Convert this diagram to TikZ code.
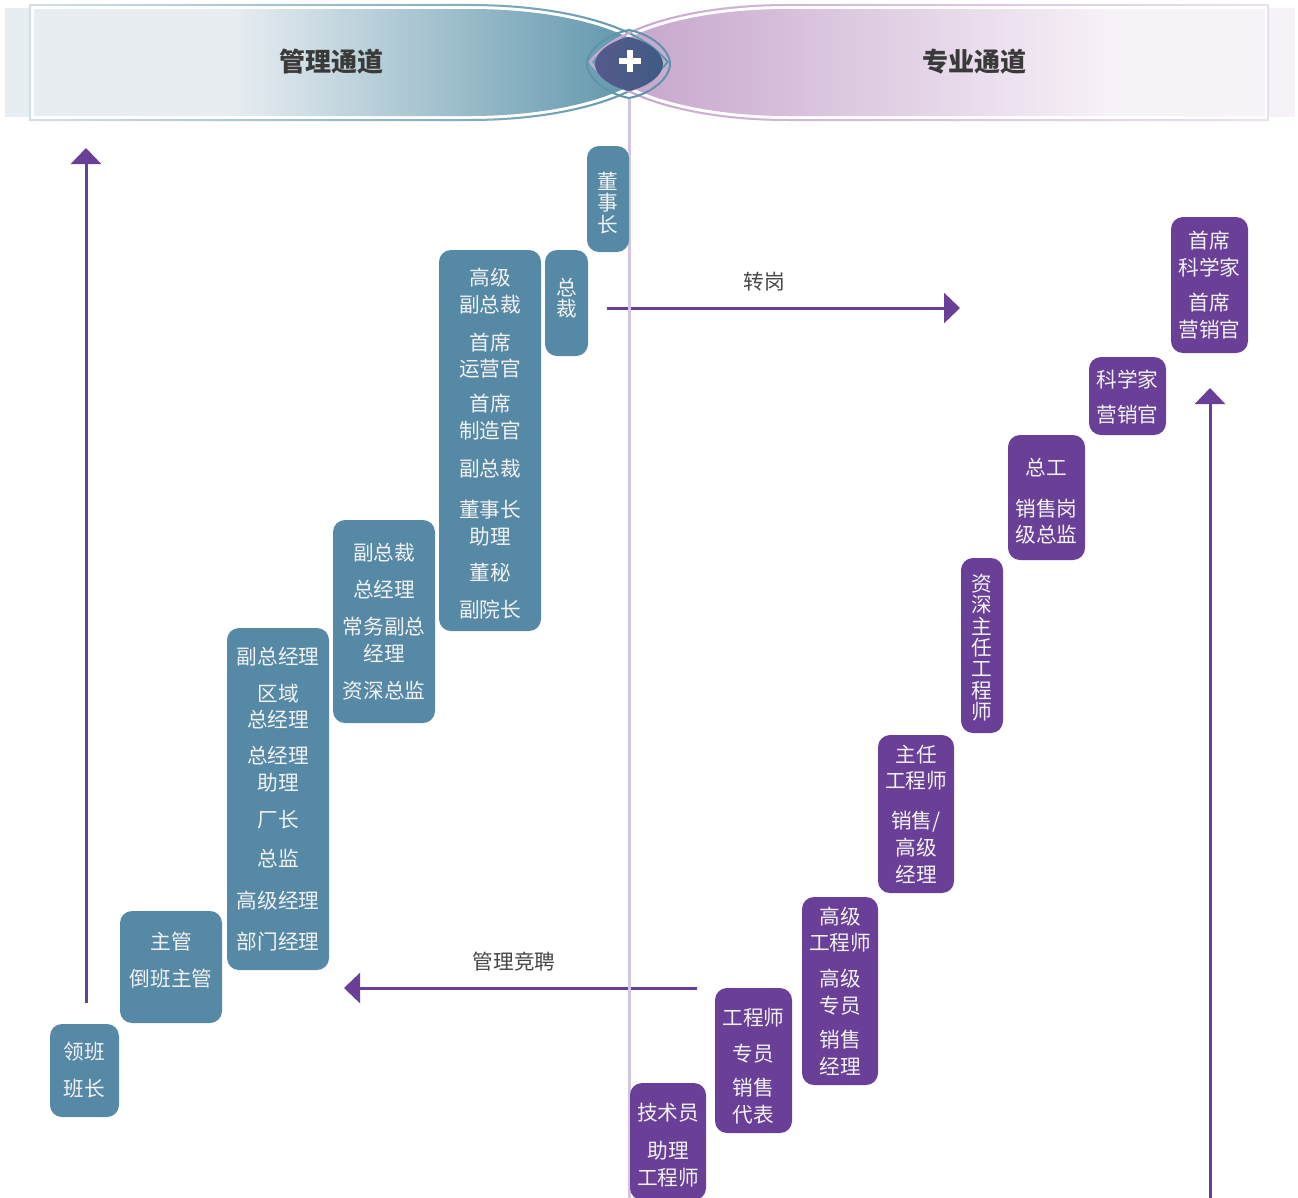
\documentclass[tikz,border=0pt]{standalone}
\usepackage{fontspec}
\newfontfamily\cjk{Noto Sans CJK SC}
\usetikzlibrary{arrows.meta,fadings}

\definecolor{mgmtblue}{RGB}{86,137,165}
\definecolor{proviolet}{RGB}{106,63,151}
\definecolor{boxtext}{RGB}{242,242,242}
\definecolor{divline}{RGB}{211,197,226}
\definecolor{headgray}{RGB}{58,58,58}
\definecolor{taggray}{RGB}{70,70,70}
\definecolor{mgmtpale}{RGB}{231,237,241}
\definecolor{mgmtdeep}{RGB}{94,149,171}
\definecolor{mgmtedge}{RGB}{212,224,231}
\definecolor{propale}{RGB}{247,241,248}
\definecolor{prodeep}{RGB}{198,165,204}
\definecolor{proedge}{RGB}{236,226,239}
\definecolor{lensleft}{RGB}{86,90,140}
\definecolor{lensright}{RGB}{62,92,131}

% struts to nudge text inside a box: \textdrop on the first line, \textlift on the last
\newcommand{\textdrop}[1]{\rule{0pt}{#1}}
\newcommand{\textlift}[1]{\rule[-#1]{0pt}{0pt}}

\begin{document}
\begin{tikzpicture}[x=0.75pt,y=0.75pt,yscale=-1,xscale=1,
  bluebox/.style={rounded corners=9pt, fill=mgmtblue, text=boxtext, align=center, inner sep=0pt, font=\cjk\fontsize{15.5}{20}\selectfont},
  violetbox/.style={bluebox, fill=proviolet},
  stacked/.style={font=\cjk\fontsize{15.5}{16}\selectfont},
  jump/.style={proviolet, line width=2.25pt, -{Triangle[width=22.5pt,length=12pt]}},
  tag/.style={text=taggray, font=\cjk\fontsize{15.5}{20}\selectfont, inner sep=0pt},
  title/.style={text=headgray, font=\cjk\bfseries\fontsize{19.5}{24}\selectfont, inner sep=0pt}]
\useasboundingbox (0,0) rectangle (1298,1197);

%Header shadows
\fill[mgmtpale] (5,8) rectangle (30,117);
\fill[propale] (1268,8) rectangle (1295,117);

%Header left band
\fill[mgmtpale] (34,9) -- (470,9) .. controls (556,9) and (634,28) .. (661,62) .. controls (634,96) and (556,116) .. (470,116) -- (34,116) -- cycle;
\begin{scope}
\clip (34,9) -- (470,9) .. controls (556,9) and (634,28) .. (661,62) .. controls (634,96) and (556,116) .. (470,116) -- (34,116) -- cycle;
\shade[left color=mgmtpale, right color=mgmtdeep] (235,0) rectangle (640,125);
\fill[mgmtdeep] (639,0) rectangle (670,125);
\end{scope}

%Header right band
\fill[propale] (597,62) .. controls (624,28) and (702,9) .. (788,9) -- (1265,9) -- (1265,116) -- (788,116) .. controls (702,116) and (624,96) .. (597,62) -- cycle;
\begin{scope}
\clip (597,62) .. controls (624,28) and (702,9) .. (788,9) -- (1265,9) -- (1265,116) -- (788,116) .. controls (702,116) and (624,96) .. (597,62) -- cycle;
\fill[prodeep] (590,0) rectangle (621,125);
\shade[left color=prodeep, right color=propale] (620,0) rectangle (1110,125);
\end{scope}

%Header outlines
\draw[mgmtedge, line width=1.5pt] (30,5) -- (470,5) .. controls (560,5) and (640,25) .. (668,62) .. controls (640,99) and (560,120) .. (470,120) -- (30,120) -- cycle;
\draw[mgmtdeep, line width=1.5pt, path fading=west] (30,5) -- (470,5) .. controls (560,5) and (640,25) .. (668,62) .. controls (640,99) and (560,120) .. (470,120) -- (30,120) -- cycle;
\draw[proedge, line width=1.5pt] (590,62) .. controls (618,25) and (698,5) .. (788,5) -- (1268,5) -- (1268,120) -- (788,120) .. controls (698,120) and (618,99) .. (590,62) -- cycle;
\draw[prodeep, line width=1.5pt, path fading=east] (590,62) .. controls (618,25) and (698,5) .. (788,5) -- (1268,5) -- (1268,120) -- (788,120) .. controls (698,120) and (618,99) .. (590,62) -- cycle;

%Lens with plus
\draw[mgmtdeep, line width=1.5pt] (629,30) .. controls (651,34) and (670,50) .. (670,64) .. controls (670,78) and (651,94) .. (629,98) .. controls (607,94) and (587,78) .. (587,64) .. controls (587,50) and (607,34) .. (629,30) -- cycle;
\shade[left color=lensleft, right color=lensright] (629,37) .. controls (647,41) and (663,52) .. (663,64) .. controls (663,76) and (647,87) .. (629,91) .. controls (611,87) and (595,76) .. (595,64) .. controls (595,52) and (611,41) .. (629,37) -- cycle;
\draw[white, line width=4.5pt] (619,61) -- (641,61) (630,50) -- (630,72);

\node[title] (mgmttitle) at (331,62) {管理通道};
\node[title] (protitle) at (974,62) {专业通道};

%Arrows
\coordinate (mgmtfoot) at (86,1003);
\coordinate (mgmthead) at (86,148);
\coordinate (profoot) at (1210,1200);
\coordinate (prohead) at (1210,388);
\coordinate (xferstart) at (607,308);
\coordinate (xferend) at (960,308);
\coordinate (bidstart) at (697,988);
\coordinate (bidend) at (344,988);
\draw[jump] (mgmtfoot) -- (mgmthead);
\draw[jump] (profoot) -- (prohead);
\draw[jump] (xferstart) -- (xferend);
\draw[jump] (bidstart) -- (bidend);
\node[tag] (xferlabel) at (764,282) {转岗};
\node[tag] (bidlabel) at (514,962) {管理竞聘};

%Divider
\draw[divline, line width=2.25pt] (629,99) -- (629,1200);

%Management ladder
\node[bluebox, stacked, minimum width=31.5pt, minimum height=79.5pt] (chairman) at (608,199) {\textdrop{19pt}董\\事\\长};
\node[bluebox, stacked, minimum width=32.25pt, minimum height=79.5pt] (president) at (566.5,303) {总\\裁\textlift{9pt}};
\node[bluebox, minimum width=76.5pt, minimum height=285.75pt] (executives) at (490,440.5) {\textdrop{17.5pt}高级\\副总裁\\[8.5pt]首席\\运营官\\[6.25pt]首席\\制造官\\[8.5pt]副总裁\\[10.75pt]董事长\\助理\\[7pt]董秘\\[7.75pt]副院长};
\node[bluebox, minimum width=76.5pt, minimum height=152.25pt] (generalmgrs) at (384,621.5) {副总裁\\[7.75pt]总经理\\[7.75pt]常务副总\\经理\\[8pt]资深总监};
\node[bluebox, minimum width=76.5pt, minimum height=256.5pt] (managers) at (278,799) {副总经理\\[7.75pt]区域\\总经理\\[7pt]总经理\\助理\\[7.75pt]厂长\\[9.25pt]总监\\[11.5pt]高级经理\\[10.75pt]部门经理};
\node[bluebox, minimum width=76.5pt, minimum height=84pt] (supervisors) at (171,967) {主管\\[7.75pt]倒班主管\textlift{11.5pt}};
\node[bluebox, minimum width=51.75pt, minimum height=69.75pt] (leaders) at (84.5,1070.5) {领班\\[7.75pt]班长};

%Professional ladder
\node[violetbox, minimum width=57pt, minimum height=87.75pt] (technicians) at (668,1141.5) {\textdrop{18.5pt}技术员\\[8.5pt]助理\\工程师};
\node[violetbox, minimum width=57.75pt, minimum height=108.75pt] (engineers) at (753.5,1060.5) {\textdrop{21.5pt}工程师\\[7pt]专员\\[5.5pt]销售\\代表};
\node[violetbox, minimum width=57pt, minimum height=141pt] (senioreng) at (840,991) {高级\\工程师\\[7pt]高级\\专员\\[5.5pt]销售\\经理};
\node[violetbox, minimum width=57pt, minimum height=118.5pt] (principaleng) at (916,814) {主任\\工程师\\[10pt]销售/\\高级\\经理};
\node[violetbox, stacked, minimum width=31.5pt, minimum height=131.25pt] (seniorprincipal) at (982,645.5) {\textdrop{16pt}资\\深\\主\\任\\工\\程\\师};
\node[violetbox, minimum width=57.75pt, minimum height=93.75pt] (chiefeng) at (1046.5,497.5) {\textdrop{18.5pt}总工\\[10.75pt]销售岗\\级总监};
\node[violetbox, minimum width=57.75pt, minimum height=58.5pt] (scientists) at (1127.5,396) {\textdrop{15.5pt}科学家\\[6.25pt]营销官};
\node[violetbox, minimum width=57.75pt, minimum height=102pt] (chiefsci) at (1209.5,285) {首席\\科学家\\[6.25pt]首席\\营销官};

\end{tikzpicture}
\end{document}
